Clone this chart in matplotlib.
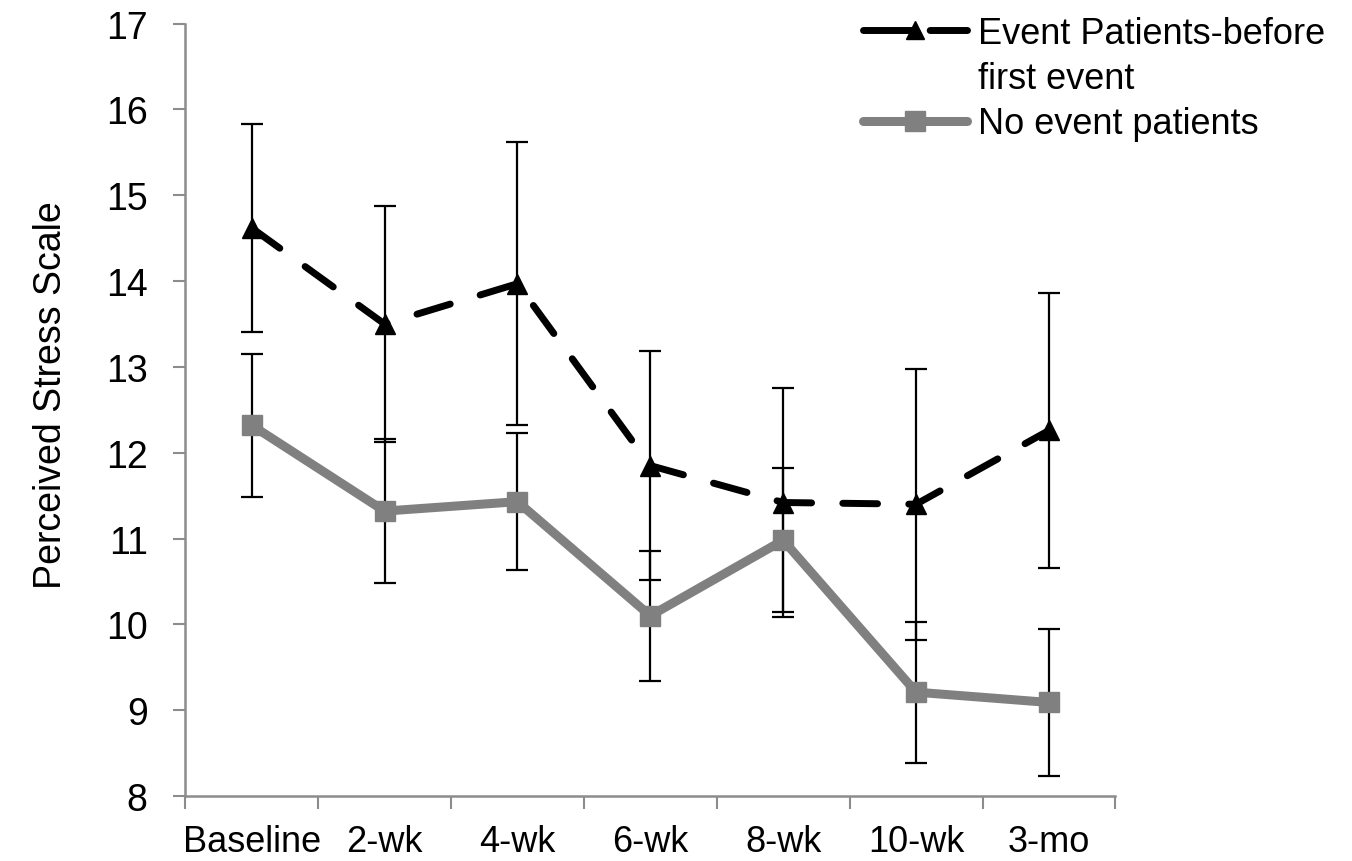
import numpy as np
import matplotlib
matplotlib.use("Agg")
import matplotlib.pyplot as plt
from matplotlib.lines import Line2D

# Dados (média ± erro)
pontos = ["Baseline", "2-wk", "4-wk", "6-wk", "8-wk", "10-wk", "3-mo"]
evento = [14.62, 13.50, 13.97, 11.85, 11.42, 11.40, 12.26]
evento_err = [1.21, 1.37, 1.65, 1.33, 1.33, 1.58, 1.60]
sem_evento = [12.32, 11.32, 11.43, 10.10, 10.98, 9.21, 9.09]
sem_evento_err = [0.83, 0.84, 0.80, 0.76, 0.84, 0.82, 0.86]

plt.rcParams["font.family"] = ["Liberation Sans", "DejaVu Sans"]
CINZA = "#808080"
EIXO = "#8c8c8c"

fig = plt.figure(figsize=(13.52, 8.62), dpi=100)
ax = fig.add_axes([0.137, 0.0754, 0.688, 0.896])

x = np.arange(len(pontos))

# barras de erro (pretas para ambas as séries)
ax.errorbar(x, sem_evento, yerr=sem_evento_err, fmt="none", ecolor="black",
            elinewidth=1.6, capsize=8, capthick=1.6, zorder=2)
ax.errorbar(x, evento, yerr=evento_err, fmt="none", ecolor="black",
            elinewidth=1.6, capsize=8, capthick=1.6, zorder=2)

ax.plot(x, sem_evento, color=CINZA, linewidth=6.5, marker="s", markersize=14,
        solid_capstyle="round", zorder=3)
ax.plot(x, evento, color="black", linewidth=5, linestyle=(0, (5, 4.5)),
        dash_capstyle="round", marker="^", markersize=14, zorder=4)

ax.set_ylim(8, 17)
ax.set_yticks(range(8, 18))
ax.set_xlim(-0.5, len(pontos) - 0.5)
ax.set_xticks(np.arange(-0.5, len(pontos), 1.0))
ax.set_xticklabels([])
ax.set_xticks(x, minor=True)
ax.set_xticklabels(pontos, minor=True, fontsize=26)
ax.tick_params(axis="x", which="minor", length=0, pad=20)
ax.tick_params(axis="x", which="major", length=9, color=EIXO, width=1.5)
ax.tick_params(axis="y", length=9, color=EIXO, width=1.5, labelsize=27, pad=18)

for lado in ("top", "right"):
    ax.spines[lado].set_visible(False)
for lado in ("left", "bottom"):
    ax.spines[lado].set_color(EIXO)
    ax.spines[lado].set_linewidth(1.8)

ax.set_ylabel("Perceived Stress Scale", fontsize=27, labelpad=36)
ax.yaxis.set_label_coords(-0.125, 0.52)

# legenda estilo Excel: marcador alinhado à primeira linha do rótulo
alcas = [
    Line2D([], [], color="black", linewidth=5, linestyle=(0, (7, 2.6)),
           dash_capstyle="round", marker="^", markersize=13),
    Line2D([], [], linestyle="none"),
    Line2D([], [], color=CINZA, linewidth=6.5, marker="s", markersize=14,
           solid_capstyle="round"),
]
rotulos = ["Event Patients-before", "first event", "No event patients"]
fig.legend(alcas, rotulos, loc="upper left", bbox_to_anchor=(0.614, 1.018),
           frameon=False, fontsize=26, handlelength=2.9, handletextpad=0.3,
           labelspacing=0.28)

fig.savefig("out.png", dpi=100, facecolor="white")
